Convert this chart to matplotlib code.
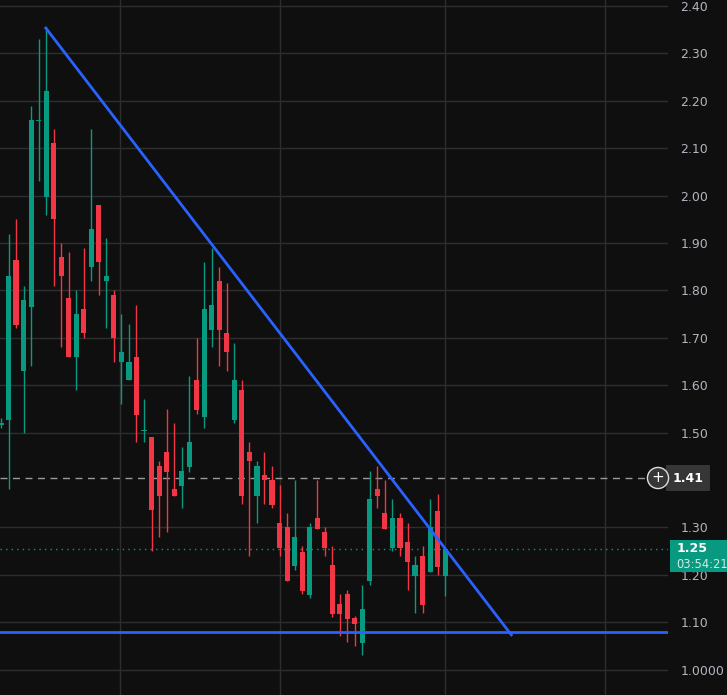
import matplotlib
matplotlib.use("Agg")
import matplotlib.pyplot as plt
import numpy as np

opens  = [1.516,1.527,1.864,1.63,1.765,2.157,1.997,2.11,1.87,1.784,1.66,1.76,1.85,1.98,1.82,1.79,1.65,1.61,1.66,1.503,
          1.49,1.43,1.46,1.38,1.387,1.427,1.61,1.533,1.716,1.82,1.71,1.527,1.59,1.46,1.366,1.41,1.40,1.31,1.30,1.218,
          1.248,1.157,1.32,1.29,1.22,1.138,1.16,1.109,1.056,1.187,1.38,1.33,1.257,1.32,1.27,1.197,1.24,1.206,1.335,1.197]
closes = [1.520,1.83,1.727,1.78,2.16,2.159,2.22,1.95,1.83,1.66,1.75,1.71,1.93,1.86,1.83,1.70,1.67,1.65,1.537,1.505,
          1.337,1.366,1.417,1.366,1.42,1.48,1.548,1.76,1.77,1.716,1.67,1.61,1.366,1.44,1.43,1.40,1.347,1.257,1.187,1.28,
          1.166,1.30,1.297,1.257,1.117,1.117,1.107,1.096,1.128,1.36,1.366,1.297,1.32,1.257,1.227,1.22,1.136,1.30,1.216,1.254]
highs  = [1.53,1.92,1.95,1.81,2.19,2.33,2.356,2.14,1.90,1.88,1.80,1.89,2.14,1.98,1.91,1.80,1.75,1.73,1.77,1.57,
          1.49,1.44,1.55,1.52,1.47,1.62,1.70,1.86,1.89,1.85,1.815,1.69,1.61,1.48,1.44,1.46,1.43,1.39,1.33,1.40,
          1.26,1.31,1.40,1.30,1.26,1.16,1.168,1.113,1.178,1.42,1.43,1.40,1.36,1.33,1.31,1.24,1.26,1.36,1.37,1.254]
lows   = [1.51,1.38,1.72,1.50,1.64,2.03,1.96,1.81,1.68,1.66,1.59,1.70,1.82,1.79,1.72,1.65,1.56,1.61,1.48,1.48,
          1.25,1.28,1.29,1.366,1.34,1.417,1.54,1.51,1.68,1.64,1.63,1.52,1.35,1.24,1.31,1.35,1.34,1.24,1.187,1.21,
          1.16,1.15,1.297,1.24,1.11,1.07,1.058,1.05,1.03,1.178,1.34,1.297,1.25,1.24,1.168,1.12,1.12,1.206,1.20,1.155]

yticks = [2.40,2.30,2.20,2.10,2.00,1.90,1.80,1.70,1.60,1.50,1.30,1.20,1.10,1.00]
ytick_labels = ["2.40","2.30","2.20","2.10","2.00","1.90","1.80","1.70","1.60","1.50","1.30","1.20","1.10","1.0000"]
trend_x = [5.84, 67.9]
trend_y = [2.356, 1.071]
support = 1.079
marker_price = 1.405
last_price = 1.254

BG = "#0f0f0f"; GREEN = "#089981"; RED = "#f23645"; BLUE = "#2962ff"; GRID = "#2e2e2e"

fig = plt.figure(figsize=(7.27, 6.95), dpi=100, facecolor=BG)
ax = fig.add_axes([0, 0, 668/727, 1])
ax.set_facecolor(BG)

x = np.arange(len(opens))
for i in x:
    o, c, h, l = opens[i], closes[i], highs[i], lows[i]
    col = GREEN if c >= o else RED
    ax.vlines(i, l, h, color=col, lw=1, zorder=3)
    lo, hi = min(o, c), max(o, c)
    ax.bar(i, max(hi - lo, 0.003), bottom=lo, width=0.68, color=col, zorder=4, linewidth=0)

ax.plot(trend_x, trend_y, color=BLUE, lw=2, zorder=5, solid_capstyle="butt")
ax.axhline(support, color=BLUE, lw=2, zorder=5)
ax.axhline(marker_price, color="#9a9a9a", lw=1, ls=(0, (5, 4)), zorder=2, xmax=648/668)
ax.axhline(last_price, color=GREEN, lw=1, ls=(0, (1, 3)), zorder=2)

ax.set_xlim(-0.13, 88.6)
ax.set_ylim(0.9464, 2.4127)
ax.set_xticks([15.8, 37.05, 59, 80.2])
ax.set_xticklabels([])
ax.tick_params(axis="x", length=0)
ax.grid(True, color=GRID, lw=1)
ax.set_axisbelow(True)
for s in ax.spines.values():
    s.set_visible(False)
ax.yaxis.tick_right()
ax.set_yticks(yticks)
ax.set_yticklabels(ytick_labels)
ax.tick_params(axis="y", length=0, pad=9, labelcolor="#b2b5be", labelsize=9)
for t in ax.get_yticklabels():
    t.set_clip_on(False)

# 1.41 label box
fig.text(688/727, 1 - 478/695, "1.41", color="white", fontsize=9, fontweight="bold",
         ha="center", va="center",
         bbox=dict(boxstyle="square,pad=0.5", fc="#363636", ec="none"))
fig.text(658/727, 1 - 478/695, "+", color="white", fontsize=11, ha="center", va="center",
         bbox=dict(boxstyle="circle,pad=0.2", fc="#363636", ec="#dddddd", lw=1))
# last price box
fig.patches.append(plt.Rectangle((670/727, 1 - 572/695), 57/727, 32/695,
                                 transform=fig.transFigure, fc=GREEN, ec="none"))
fig.text(677/727, 1 - 549/695, "1.25", color="white", fontsize=9, fontweight="bold", ha="left", va="center")
fig.text(676/727, 1 - 564/695, "03:54:21", color="#d0ece6", fontsize=8.3, ha="left", va="center")

fig.savefig("out.png", dpi=100, facecolor=BG)
